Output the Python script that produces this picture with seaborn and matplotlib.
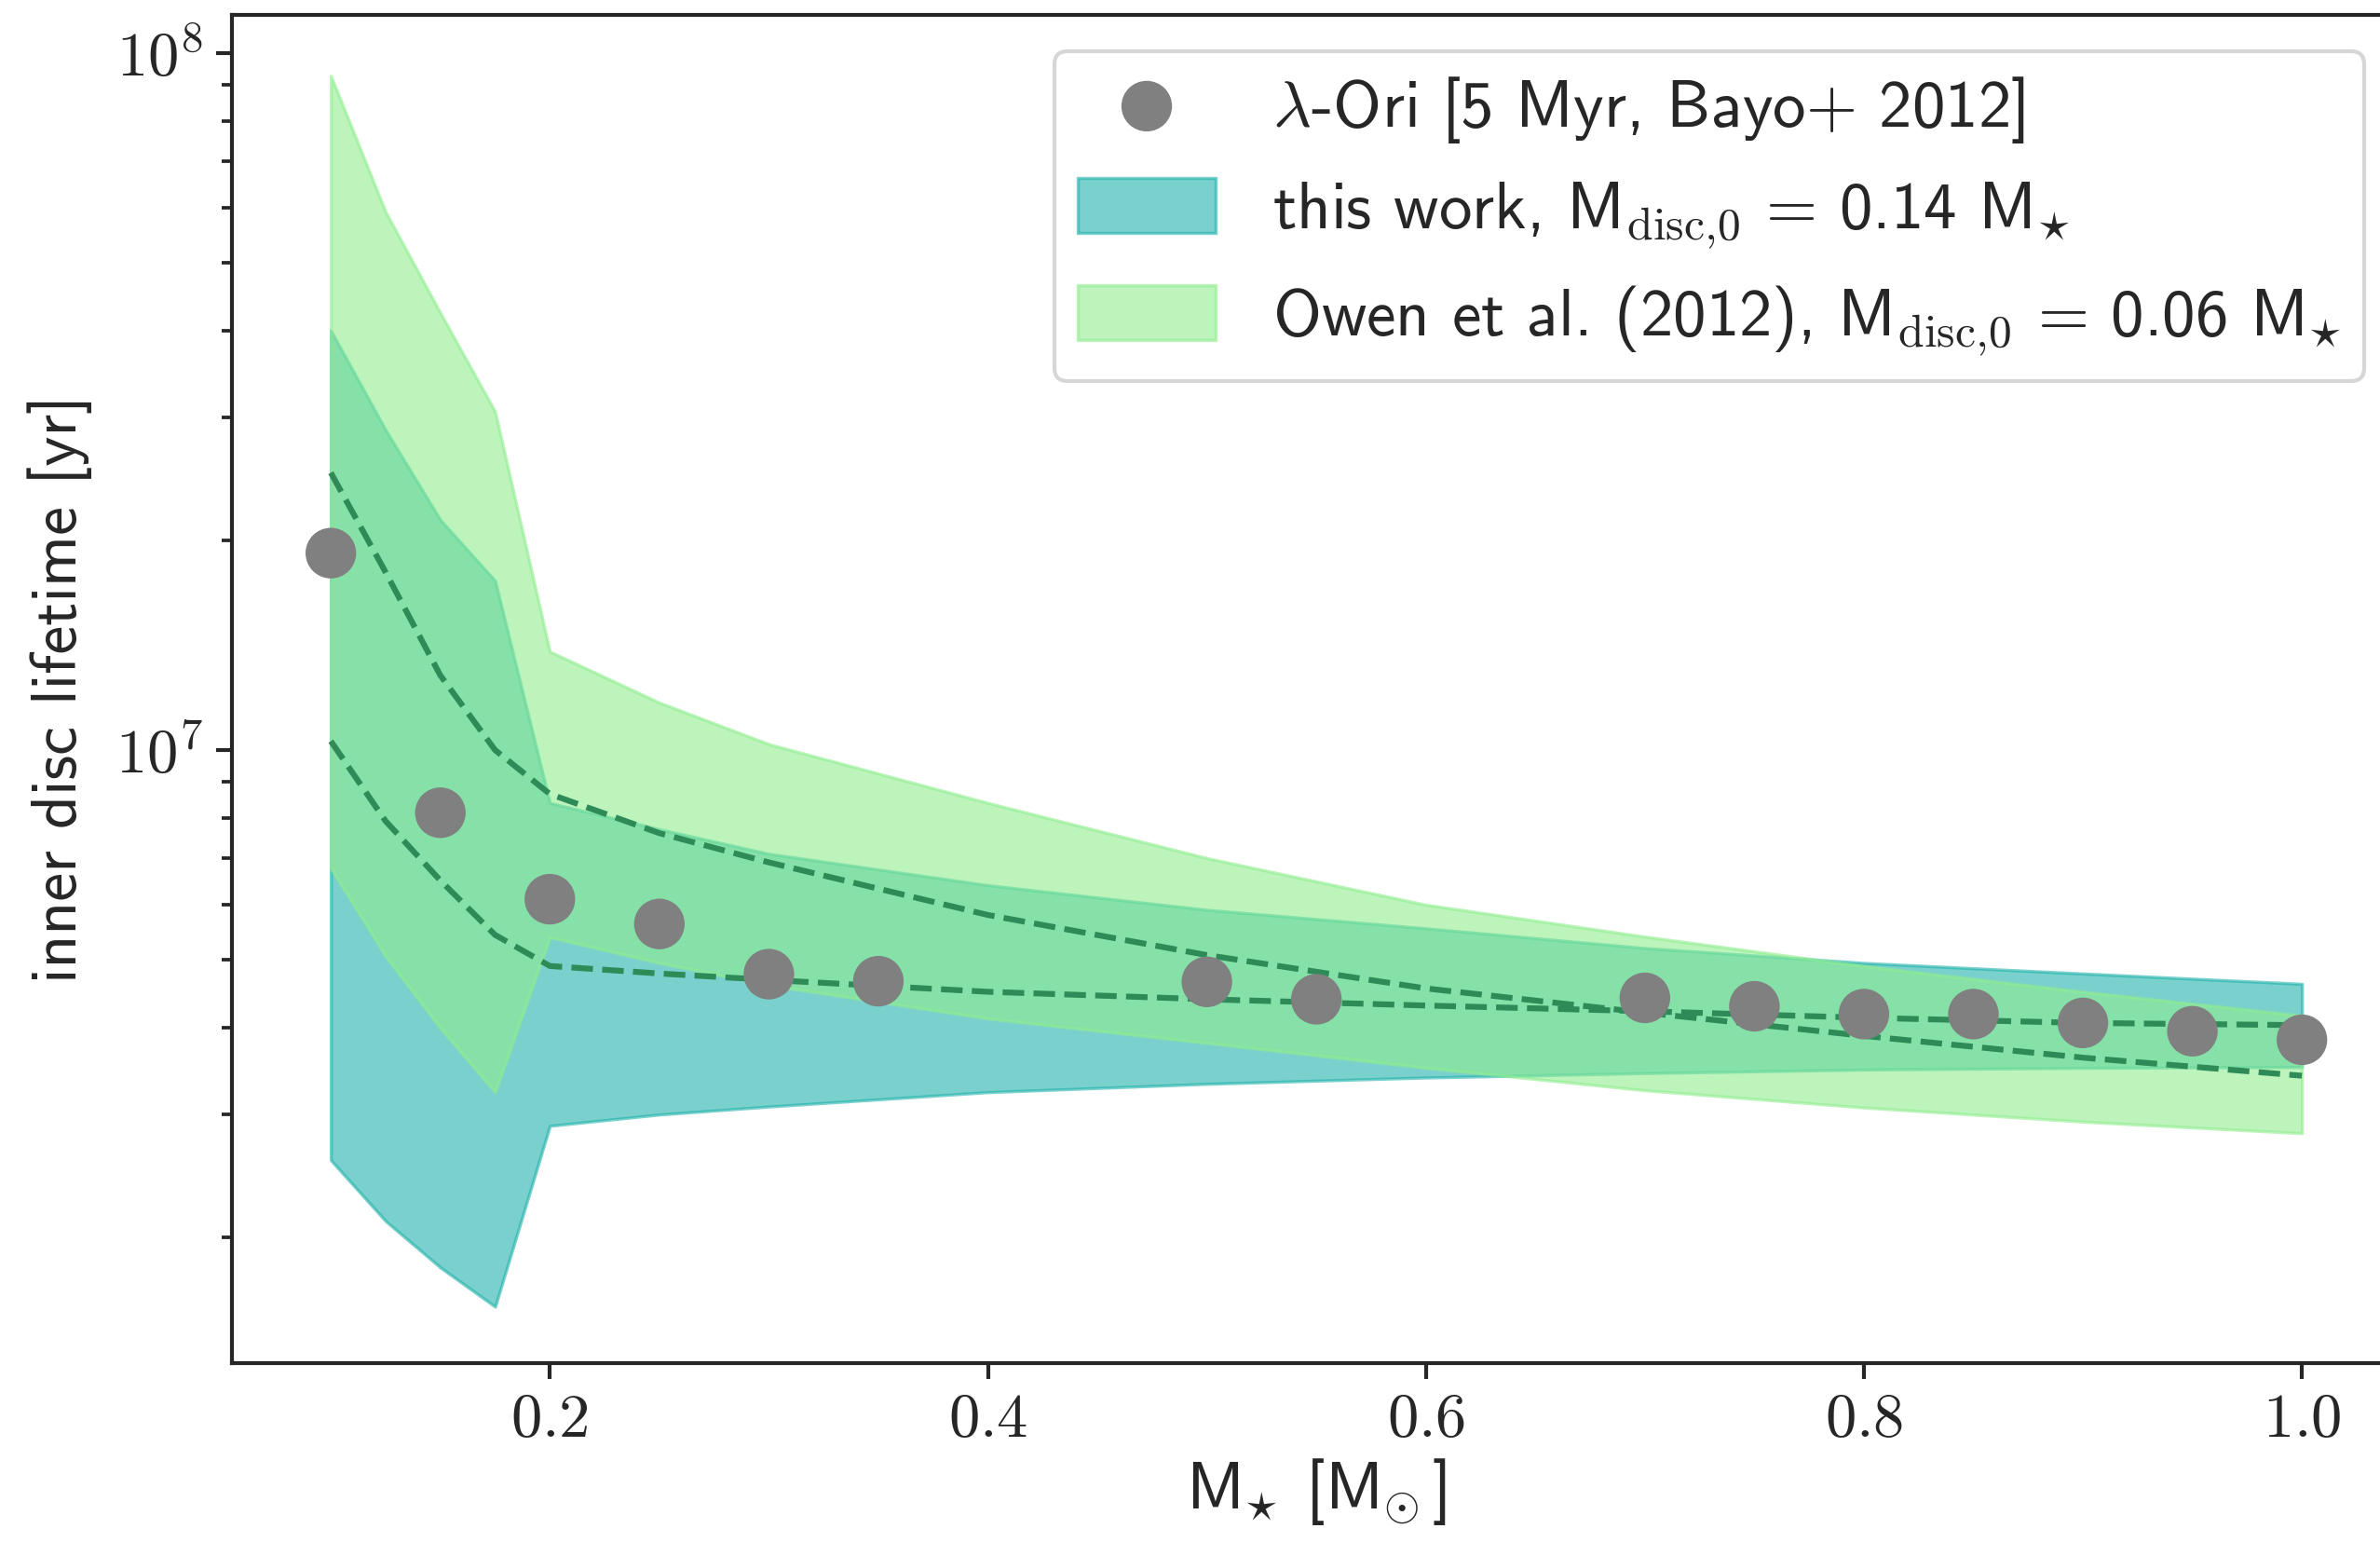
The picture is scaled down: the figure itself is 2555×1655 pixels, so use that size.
import numpy as np
import matplotlib
matplotlib.use("Agg")
import matplotlib.pyplot as plt
import seaborn as sns
from matplotlib.ticker import FixedLocator, FuncFormatter, LogLocator, NullFormatter

# -----------------------------------------------------
# DATA
# -----------------------------------------------------

# stellar mass grid of the models [Msun]
mass = [0.1, 0.125, 0.15, 0.175, 0.2, 0.25, 0.3, 0.4, 0.5, 0.6, 0.7, 0.8, 0.9, 1.0]

# this work, Mdisc,0 = 0.14 M*  (band)
tw_hi = [4.0e7, 2.88e7, 2.14e7, 1.75e7, 8.4e6, 7.7e6, 7.1e6, 6.4e6, 5.9e6, 5.55e6, 5.2e6, 4.95e6, 4.78e6, 4.62e6]
tw_lo = [2.58e6, 2.11e6, 1.81e6, 1.59e6, 2.89e6, 3.0e6, 3.08e6, 3.23e6, 3.32e6, 3.39e6, 3.44e6, 3.48e6, 3.5e6, 3.51e6]

# Owen et al. (2012), Mdisc,0 = 0.06 M*  (band)
ow_hi = [9.28e7, 5.92e7, 4.24e7, 3.06e7, 1.385e7, 1.17e7, 1.02e7, 8.4e6, 7.0e6, 6.0e6, 5.4e6, 4.9e6, 4.5e6, 4.16e6]
ow_lo = [6.77e6, 5.06e6, 3.99e6, 3.23e6, 5.39e6, 4.95e6, 4.6e6, 4.12e6, 3.8e6, 3.5e6, 3.25e6, 3.07e6, 2.93e6, 2.82e6]

# dashed lines
dash_a = [2.5e7, 1.8e7, 1.28e7, 1.0e7, 8.65e6, 7.6e6, 6.9e6, 5.8e6, 5.08e6, 4.55e6, 4.2e6, 3.89e6, 3.62e6, 3.41e6]
dash_b = [1.03e7, 7.91e6, 6.5e6, 5.43e6, 4.9e6, 4.78e6, 4.68e6, 4.5e6, 4.39e6, 4.3e6, 4.22e6, 4.13e6, 4.06e6, 4.03e6]

# lambda-Ori [5 Myr, Bayo+ 2012]
obs_mass = [0.1, 0.15, 0.2, 0.25, 0.3, 0.35, 0.5, 0.55, 0.7, 0.75, 0.8, 0.85, 0.9, 0.95, 1.0]
obs_life = [1.917e7, 8.13e6, 6.11e6, 5.63e6, 4.77e6, 4.66e6, 4.65e6, 4.39e6,
            4.41e6, 4.29e6, 4.18e6, 4.18e6, 4.06e6, 3.95e6, 3.84e6]

x_ticks = [0.2, 0.4, 0.6, 0.8, 1.0]

# -----------------------------------------------------
# STYLE
# -----------------------------------------------------
sns.set_style("ticks")
plt.rcParams["font.family"] = ["cmss10", "Lato", "DejaVu Sans"]
plt.rcParams["mathtext.fontset"] = "cm"
plt.rcParams["axes.formatter.use_mathtext"] = True
plt.rcParams["axes.edgecolor"] = ".15"
plt.rcParams["axes.linewidth"] = 1.0

fig = plt.figure(figsize=(2555 / 300, 1655 / 300), dpi=300)
ax = fig.add_axes([0.0976, 0.1158, 0.9110, 0.8744])

teal = "lightseagreen"
green = "lightgreen"

# -----------------------------------------------------
# PLOT
# -----------------------------------------------------
h_tw = ax.fill_between(mass, tw_lo, tw_hi, color=teal, alpha=0.6, lw=0.8,
                       label=r"this work, M$_{\mathrm{disc{,}0}}$ = 0.14 M$\!_\star$")
h_ow = ax.fill_between(mass, ow_lo, ow_hi, color=green, alpha=0.6, lw=0.8,
                       label=r"Owen et al. (2012), M$_{\mathrm{disc{,}0}}$ = 0.06 M$\!_\star$")

sns.lineplot(x=mass, y=dash_a, ax=ax, color="seagreen", lw=1.5,
             linestyle="--", legend=False)
sns.lineplot(x=mass, y=dash_b, ax=ax, color="seagreen", lw=1.5,
             linestyle="--", legend=False)

sns.scatterplot(x=obs_mass, y=obs_life, ax=ax, color="gray", s=170,
                edgecolor="none", zorder=5,
                label=r"$\lambda$-Ori [5 Myr, Bayo+ 2012]")

ax.set_yscale("log")
ax.set_xlim(0.055, 1.045)
ax.set_ylim(1.318e6, 1.134e8)

ax.xaxis.set_major_locator(FixedLocator(x_ticks))
ax.xaxis.set_major_formatter(FuncFormatter(lambda v, p: r"$%.1f$" % v))
ax.yaxis.set_major_locator(LogLocator(base=10))
ax.yaxis.set_major_formatter(FuncFormatter(lambda v, p: r"$10^{%d}$" % round(np.log10(v))))
ax.yaxis.set_minor_locator(LogLocator(base=10, subs=np.arange(2, 10)))
ax.yaxis.set_minor_formatter(NullFormatter())
ax.tick_params(axis="both", which="major", labelsize=16, length=4, width=1.0, color=".15")
ax.tick_params(axis="y", which="minor", length=2.6, width=0.9, color=".15")

ax.set_xlabel(r"M$\!_\star\;$[M$\!_\odot$]", fontsize=17, labelpad=2)
ax.set_ylabel("inner disc lifetime [yr]", fontsize=16.7, labelpad=6)

handles, labels = ax.get_legend_handles_labels()
order = [labels.index(l) for l in labels if "Ori" in l] + \
        [labels.index(l) for l in labels if "this" in l] + \
        [labels.index(l) for l in labels if "Owen" in l]
ax.legend([handles[i] for i in order], [labels[i] for i in order],
          loc="upper right", fontsize=17, frameon=True, fancybox=True,
          edgecolor="#cccccc", labelspacing=0.5, handlelength=2.1,
          handleheight=0.9, handletextpad=0.85, borderaxespad=0.55,
          borderpad=0.35)

fig.savefig("out.png", dpi=300)
